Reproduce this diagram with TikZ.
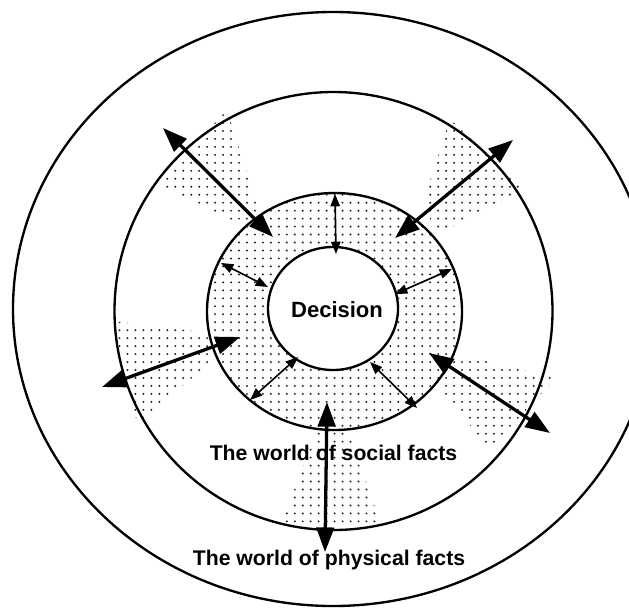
\documentclass[tikz,border=0pt]{standalone}
\usepackage{fontspec}
\setmainfont{Liberation Sans}
\usetikzlibrary{arrows.meta,patterns}

% dot screen for the shaded parts
\pgfdeclarepatternformonly{sparsedots}{\pgfqpoint{-1pt}{-1pt}}{\pgfqpoint{1pt}{1pt}}{\pgfqpoint{6.8pt}{6.8pt}}{%
	\pgfpathcircle{\pgfqpoint{0pt}{0pt}}{0.95pt}%
	\pgfusepath{fill}%
}

\begin{document}
\begin{tikzpicture}[x=0.03cm, y=-0.03cm,
	ring/.style={line width=2pt},
	dotfill/.style={pattern=sparsedots, pattern color=black!85},
	bigarrow/.style={{Triangle[length=21pt,width=15pt]}-{Triangle[length=21pt,width=15pt]}, line width=2.8pt},
	smallarrow/.style={{Triangle[length=10.5pt,width=8pt]}-{Triangle[length=10.5pt,width=8pt]}, line width=1.4pt},
	worldtext/.style={font=\bfseries\fontsize{18.1}{20}\selectfont, anchor=base}]

		\useasboundingbox (0,0) rectangle (629,609);

		\clip (0,0) rectangle (629,609);

		% define point

		\coordinate (NWo) at (163,128);

		\coordinate (NWi) at (273,237);

		\coordinate (NEo) at (513,140);

		\coordinate (NEi) at (395,238);

		\coordinate (Wo) at (102,387);

		\coordinate (Wi) at (240,337);

		\coordinate (SEo) at (550,433);

		\coordinate (SEi) at (429,353);

		\coordinate (So) at (325,552);

		\coordinate (Si) at (327,402);

		% shaded wedges

		\fill[dotfill] (227,110) -- (158,184) -- (248,228) -- (262,220) -- cycle;

		\fill[dotfill] (450,119) -- (525,190) -- (446,230) -- (431,228) -- (427,190) -- cycle;

		\fill[dotfill] (113,321) -- (210,333) -- (214,360) -- (137,423) -- cycle;

		\fill[dotfill] (448,352) -- (556,378) -- (490,449) -- (442,392) -- cycle;

		\fill[dotfill] (318,428) -- (347,428) -- (382,527) -- (280,527) -- cycle;

		% social ring

		\fill[dotfill] (334.5,311.5) ellipse [x radius=127.5, y radius=118.5];

		\fill[white] (333,308.5) ellipse [x radius=65, y radius=61.5];

		% circles

		\draw[ring] (333,309) ellipse [x radius=320, y radius=297];

		\draw[ring] (333.5,311) circle [radius=219];

		\draw[ring] (334.5,311.5) ellipse [x radius=127.5, y radius=118.5];

		\draw[ring] (333,308.5) ellipse [x radius=65, y radius=61.5];

		% big arrows

		\draw[bigarrow] (NWo) -- (NWi);

		\draw[bigarrow] (NEo) -- (NEi);

		\draw[bigarrow] (Wo) -- (Wi);

		\draw[bigarrow] (SEi) -- (SEo);

		\draw[bigarrow] (Si) -- (So);

		% small arrows

		\coordinate (Ta) at (335,194);

		\coordinate (Tb) at (336,254);

		\coordinate (ULa) at (221,263);

		\coordinate (ULb) at (268,287);

		\coordinate (Ra) at (395,294);

		\coordinate (Rb) at (452,269);

		\coordinate (LLa) at (298,357);

		\coordinate (LLb) at (250,400);

		\coordinate (LRa) at (370,362);

		\coordinate (LRb) at (417,408);

		\draw[smallarrow] (Ta) -- (Tb);

		\draw[smallarrow] (ULa) -- (ULb);

		\draw[smallarrow] (Ra) -- (Rb);

		\draw[smallarrow] (LLa) -- (LLb);

		\draw[smallarrow] (LRa) -- (LRb);

		% texts

		\node[worldtext, font=\bfseries\fontsize{18.8}{20}\selectfont] (decision) at (337,317) {Decision};

		\node[worldtext] (social) at (333.5,460) {The world of social facts};

		\node[worldtext] (physical) at (329,565) {The world of physical facts};

\end{tikzpicture}
\end{document}
